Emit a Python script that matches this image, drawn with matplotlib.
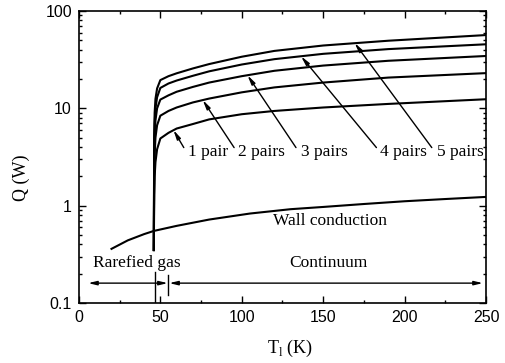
import matplotlib
matplotlib.use("Agg")
import matplotlib.pyplot as plt
from matplotlib.ticker import FixedLocator, FixedFormatter, LogLocator, NullFormatter, MultipleLocator

serif = "Liberation Serif"
sans = "Liberation Sans"
plt.rcParams["mathtext.fontset"] = "custom"
plt.rcParams["mathtext.rm"] = serif

# data
t_pairs = [46, 46.2, 46.5, 47, 48, 50, 55, 60, 70, 80, 100, 120, 150, 190, 250]
q_1pair = [0.35, 1.3, 2.0, 2.8, 3.8, 4.9, 5.6, 6.2, 6.9, 7.7, 8.7, 9.4, 10.2, 11.1, 12.4]
q_2pairs = [0.35, 2.0, 3.4, 5.0, 6.7, 8.4, 9.4, 10.2, 11.5, 12.6, 14.6, 16.4, 18.4, 20.7, 23.0]
q_3pairs = [0.35, 3.0, 5.2, 7.5, 10.0, 12.3, 13.6, 14.8, 16.6, 18.4, 21.4, 24.3, 27.5, 30.8, 34.5]
q_4pairs = [0.35, 4.0, 7.0, 10.0, 13.0, 16.2, 18.0, 19.3, 21.6, 24.0, 28.2, 32.0, 36.3, 40.6, 45.5]
q_5pairs = [0.35, 5.0, 9.0, 12.5, 16.0, 19.5, 21.4, 22.9, 25.7, 28.5, 33.9, 38.9, 44.2, 49.5, 56.6]

t_wall = [20, 30, 40, 46, 60, 80, 105, 130, 150, 175, 200, 225, 250]
q_wall = [0.36, 0.44, 0.51, 0.55, 0.62, 0.72, 0.83, 0.92, 0.97, 1.04, 1.11, 1.17, 1.23]

pair_labels = ["1 pair", "2 pairs", "3 pairs", "4 pairs", "5 pairs"]
label_t = [79, 112, 150.6, 199.4, 234]
arrow_tail_t = [64.4, 95.3, 133.3, 182.7, 216.7]
arrow_tip_t = [58, 76, 103.5, 136.4, 169.3]
arrow_tip_q = [6.0, 12.2, 21.9, 34.3, 47.0]

fig = plt.figure(figsize=(5.06, 3.63), dpi=100)
ax = fig.add_axes([0.156, 0.1653, 0.8045, 0.8044])

lw = 1.5
for q in [q_1pair, q_2pairs, q_3pairs, q_4pairs, q_5pairs]:
    ax.plot(t_pairs, q, color="black", lw=lw, solid_joinstyle="round")
ax.plot(t_wall, q_wall, color="black", lw=lw, solid_joinstyle="round")

ax.set_yscale("log")
ax.set_xlim(0, 250)
ax.set_ylim(0.1, 100)

# pair labels with arrows
for lab, lt, tt, xt, xq in zip(pair_labels, label_t, arrow_tail_t, arrow_tip_t, arrow_tip_q):
    ax.text(lt, 3.6, lab, family=serif, fontsize=12.5, ha="center", va="center")
    ax.annotate("", xy=(xt, xq), xytext=(tt, 3.95),
                arrowprops=dict(arrowstyle="-|>,head_length=0.55,head_width=0.12",
                                color="black", lw=1.0, shrinkA=0, shrinkB=0))

ax.text(154, 0.69, "Wall conduction", family=serif, fontsize=12.5, ha="center", va="center")
ax.text(35.4, 0.258, "Rarefied gas", family=serif, fontsize=12.5, ha="center", va="center")
ax.text(153, 0.26, "Continuum", family=serif, fontsize=12.5, ha="center", va="center")

# region arrows at the bottom
aprops = dict(arrowstyle="<|-|>,head_length=0.5,head_width=0.12", color="black", lw=1.0,
              shrinkA=0, shrinkB=0)
ax.annotate("", xy=(5.7, 0.16), xytext=(54.5, 0.16), arrowprops=aprops)
ax.annotate("", xy=(55.5, 0.16), xytext=(248, 0.16), arrowprops=aprops)
ax.plot([47, 47], [0.1, 0.21], color="black", lw=1.0)
ax.plot([54.5, 54.5], [0.12, 0.195], color="black", lw=1.0)

# axes styling
for sp in ax.spines.values():
    sp.set_linewidth(1.2)
ax.xaxis.set_major_locator(MultipleLocator(50))
ax.xaxis.set_minor_locator(MultipleLocator(25))
ax.yaxis.set_major_locator(FixedLocator([0.1, 1, 10, 100]))
ax.yaxis.set_major_formatter(FixedFormatter(["0.1", "1", "10", "100"]))
ax.yaxis.set_minor_locator(LogLocator(base=10, subs=range(2, 10)))
ax.yaxis.set_minor_formatter(NullFormatter())
ax.tick_params(which="both", direction="in", top=True, right=True, width=1.0)
ax.tick_params(which="major", length=5, labelsize=11.5, pad=5)
ax.tick_params(which="minor", length=2.5)
for lbl in ax.get_xticklabels() + ax.get_yticklabels():
    lbl.set_family(sans)

ax.set_ylabel("Q (W)", family=serif, fontsize=13)
ax.set_xlabel(r"T$_{\mathrm{l}}$ (K)", family=serif, fontsize=13)
ax.yaxis.set_label_coords(-0.12, 0.428)
ax.xaxis.set_label_coords(0.518, -0.12)

fig.savefig("out.png", dpi=100)
